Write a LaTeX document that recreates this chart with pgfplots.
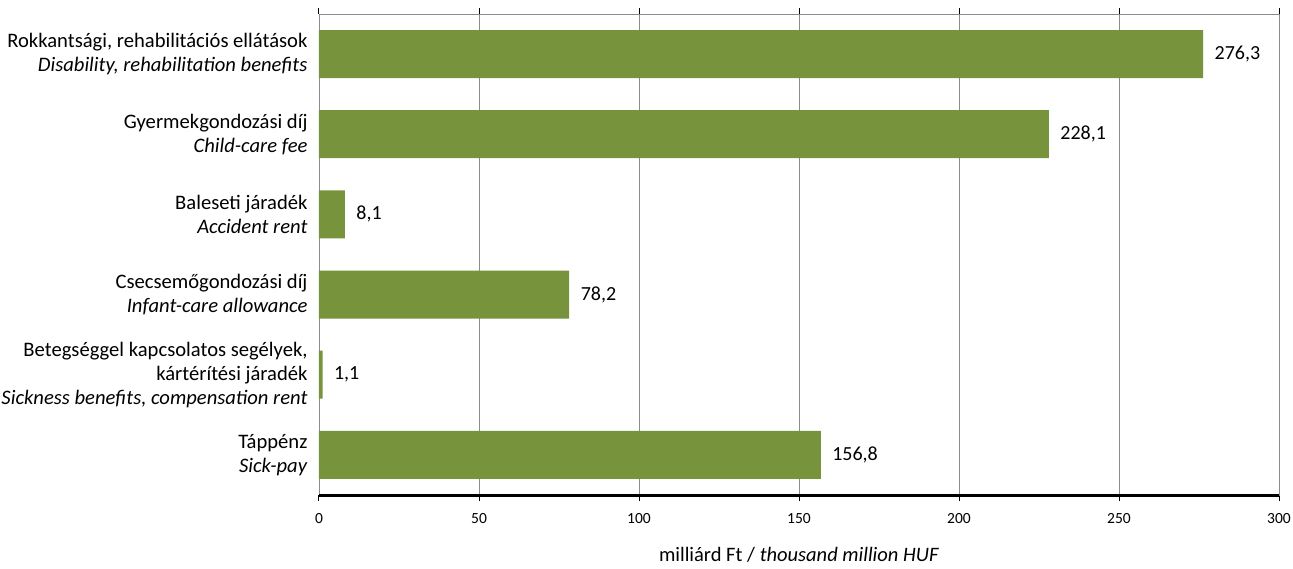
\documentclass[border=0pt]{standalone}
\usepackage{pgfplots}
\pgfplotsset{compat=1.18}
\usepackage{fontspec}
\setmainfont{Carlito}
\definecolor{barg}{HTML}{77933C}
\definecolor{gridg}{HTML}{8C8C8C}
\begin{document}
\begin{tikzpicture}
\path[use as bounding box] (0,0) rectangle (1293pt,568pt);
\begin{axis}[
  at={(319pt,73pt)}, anchor=south west,
  scale only axis, width=960pt, height=481pt,
  xbar, bar width=48pt,
  xmin=0, xmax=300, ymin=-0.5, ymax=5.5,
  xtick={0,50,...,300},
  ytick={0,1,2,3,4,5},
  yticklabels={
    {Táppénz\\\textit{Sick-pay}},
    {Betegséggel kapcsolatos segélyek,\\kártérítési járadék\\\textit{Sickness benefits, compensation rent}},
    {Csecsemőgondozási díj\\\textit{Infant-care allowance}},
    {Baleseti járadék\\\textit{Accident rent}},
    {Gyermekgondozási díj\\\textit{Child-care fee}},
    {Rokkantsági, rehabilitációs ellátások\\\textit{Disability, rehabilitation benefits}}
  },
  yticklabel style={align=right, font=\fontsize{20.6}{23.8}\selectfont, xshift=-2pt},
  ytick style={draw=none},
  xticklabel style={font=\fontsize{15.5}{18}\selectfont, yshift=-9pt},
  /pgf/number format/assume math mode=true,
  tick align=outside, major tick length=6pt,
  xtick style={black, line width=1pt},
  xmajorgrids, grid style={gridg, line width=0.8pt},
  axis line style={gridg, line width=0.8pt},
  xlabel={milliárd Ft / \textit{thousand million HUF}},
  xlabel style={at={(rel axis cs:0.5,0)}, anchor=center, yshift=-60pt, font=\fontsize{20.5}{24}\selectfont},
  nodes near coords,
  nodes near coords style={font=\fontsize{20}{24}\selectfont, anchor=west, xshift=8pt,
    /pgf/number format/.cd, use comma, fixed, fixed zerofill, precision=1, assume math mode=true},
  clip=false,
]
\addplot[fill=barg, draw=none] coordinates {
  (156.8,0) (1.1,1) (78.2,2) (8.1,3) (228.1,4) (276.3,5)
};
\draw[black, line width=3pt] (rel axis cs:0,0) -- (rel axis cs:1,0);
\end{axis}
\end{tikzpicture}
\end{document}
